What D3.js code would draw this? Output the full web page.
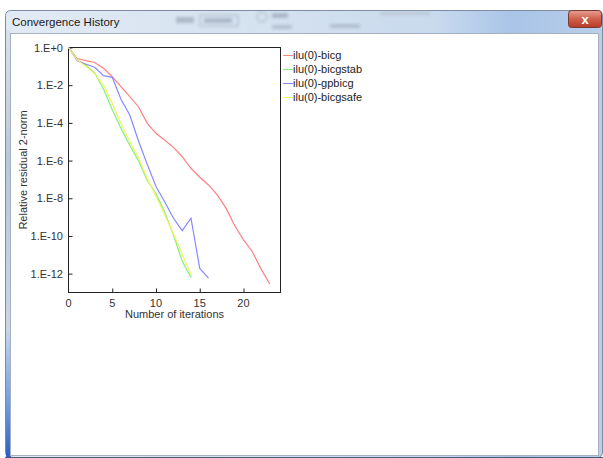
<!DOCTYPE html>
<html>
<head>
<meta charset="utf-8">
<script src="https://cdn.jsdelivr.net/npm/d3@7"></script>
<style>
  body { margin: 0; background: #fff; }
  text { font-family: "Liberation Sans", Arial, sans-serif; }
</style>
</head>
<body>
<svg id="chart" width="603" height="458"></svg>
<script>
// residual history per solver, index = iteration number
let seriesNames = ['ilu(0)-bicg', 'ilu(0)-bicgstab', 'ilu(0)-gpbicg', 'ilu(0)-bicgsafe'];
let seriesColors = ['#ff8080', '#80f080', '#8888ff', '#f4f460'];

let bicg = [1, 2.6e-1, 2.0e-1, 1.6e-1, 7.9e-2, 2.8e-2, 8.3e-3, 2.5e-3, 7.2e-4, 9.5e-5, 2.8e-5, 1.2e-5,
    5.0e-6, 1.6e-6, 3.9e-7, 1.3e-7, 5.1e-8, 1.5e-8, 3.0e-9, 3.5e-10, 6.2e-11, 1.5e-11, 1.8e-12, 2.8e-13];
let bicgstab = [1, 2.2e-1, 1.1e-1, 4.5e-2, 6.3e-3, 5.0e-4, 5.0e-5, 6.3e-6, 1.0e-6, 8.9e-8, 1.8e-8,
    1.8e-9, 1.1e-10, 4.5e-12, 6.3e-13];
let gpbicg = [1, 2.0e-1, 1.3e-1, 8.9e-2, 3.2e-2, 2.6e-2, 1.8e-3, 2.6e-4, 1.1e-5, 6.3e-7, 4.2e-8,
    6.3e-9, 8.7e-10, 1.9e-10, 8.7e-10, 1.9e-12, 5.8e-13];
let bicgsafe = [1, 2.2e-1, 1.0e-1, 4.0e-2, 1.0e-2, 1.1e-3, 9.5e-5, 1.0e-5, 1.4e-6, 1.1e-7, 1.3e-8,
    1.3e-9, 1.3e-10, 1.1e-11, 8.9e-13];

let xTicks = [0, 5, 10, 15, 20];
let yTicks = [1, 1e-2, 1e-4, 1e-6, 1e-8, 1e-10, 1e-12];
let yTickLabels = ['1.E+0', '1.E-2', '1.E-4', '1.E-6', '1.E-8', '1.E-10', '1.E-12'];

const svg = d3.select('#chart');

// ---- window chrome ----
const defs = svg.append('defs');
let tg = defs.append('linearGradient').attr('id', 'titlebar');
tg.append('stop').attr('offset', '0%').attr('stop-color', '#e2ebf5');
tg.append('stop').attr('offset', '45%').attr('stop-color', '#d4e1ef');
tg.append('stop').attr('offset', '72%').attr('stop-color', '#c9daee');
tg.append('stop').attr('offset', '85%').attr('stop-color', '#a9c4e8');
tg.append('stop').attr('offset', '100%').attr('stop-color', '#b9cfea');

let lg = defs.append('linearGradient').attr('id', 'leftedge')
    .attr('x1', 0).attr('y1', 0).attr('x2', 0).attr('y2', 1);
lg.append('stop').attr('offset', '0%').attr('stop-color', '#d8e2ee');
lg.append('stop').attr('offset', '30%').attr('stop-color', '#b8c8dc');
lg.append('stop').attr('offset', '70%').attr('stop-color', '#c8d6e8');
lg.append('stop').attr('offset', '88%').attr('stop-color', '#6f9be0');
lg.append('stop').attr('offset', '100%').attr('stop-color', '#2c5fc4');

let cg = defs.append('linearGradient').attr('id', 'closebtn')
    .attr('x1', 0).attr('y1', 0).attr('x2', 0).attr('y2', 1);
cg.append('stop').attr('offset', '0%').attr('stop-color', '#e8a092');
cg.append('stop').attr('offset', '50%').attr('stop-color', '#d0604c');
cg.append('stop').attr('offset', '100%').attr('stop-color', '#b83a28');

defs.append('filter').attr('id', 'blur')
    .append('feGaussianBlur').attr('stdDeviation', 1.6);

svg.append('rect')
    .attr('x', 5.5).attr('y', 10.5).attr('width', 597).attr('height', 447)
    .attr('rx', 5)
    .attr('fill', 'url(#titlebar)')
    .attr('stroke', '#7d8ca3');

svg.append('rect')
    .attr('x', 6).attr('y', 30).attr('width', 5).attr('height', 427)
    .attr('fill', 'url(#leftedge)');

// blurred stuff behind the glass title bar
let ghost = svg.append('g').attr('filter', 'url(#blur)').attr('opacity', 0.55);
ghost.append('rect').attr('x', 176).attr('y', 17).attr('width', 18).attr('height', 6).attr('fill', '#8a96a6');
ghost.append('rect').attr('x', 200).attr('y', 15).attr('width', 38).attr('height', 11).attr('fill', 'none')
    .attr('stroke', '#7c8898');
ghost.append('rect').attr('x', 204).attr('y', 18).attr('width', 28).attr('height', 5).attr('fill', '#8a96a6');
ghost.append('circle').attr('cx', 262).attr('cy', 17).attr('r', 5).attr('fill', 'none').attr('stroke', '#7c8898');
ghost.append('rect').attr('x', 272).attr('y', 13).attr('width', 16).attr('height', 5).attr('fill', '#8a96a6');
ghost.append('rect').attr('x', 272).attr('y', 25).attr('width', 20).attr('height', 4).attr('fill', '#9aa6b6');
ghost.append('rect').attr('x', 330).attr('y', 24).attr('width', 30).attr('height', 4).attr('fill', '#9aa6b6');
ghost.append('rect').attr('x', 380).attr('y', 12).attr('width', 50).attr('height', 3).attr('fill', '#aab4c2');

svg.append('text')
    .attr('x', 12).attr('y', 26)
    .attr('font-size', 11.5)
    .attr('fill', '#1a1a1a')
    .text('Convergence History');

svg.append('rect')
    .attr('x', 568.5).attr('y', 10.5).attr('width', 33).attr('height', 17)
    .attr('rx', 3)
    .attr('fill', 'url(#closebtn)')
    .attr('stroke', '#7a3a30');
svg.append('text')
    .attr('x', 585).attr('y', 23.5)
    .attr('text-anchor', 'middle')
    .attr('font-size', 13)
    .attr('font-weight', 'bold')
    .attr('fill', '#fff')
    .text('x');

// client area
svg.append('rect')
    .attr('x', 10.5).attr('y', 33.5).attr('width', 588).attr('height', 422)
    .attr('fill', '#fff')
    .attr('stroke', '#a8b0c0');
svg.append('line')
    .attr('x1', 5).attr('x2', 603).attr('y1', 457.5).attr('y2', 457.5)
    .attr('stroke', '#4a5a78');

// ---- plot ----
const pLeft = 68.5, pTop = 47.5, pRight = 280.5, pBottom = 292.5;

const x = d3.scaleLinear().domain([0, 24.23]).range([pLeft, pRight]);
const y = d3.scaleLog().domain([1e-13, 1]).range([pBottom, pTop]);

const plot = svg.append('g');

plot.append('rect')
    .attr('x', pLeft).attr('y', pTop)
    .attr('width', pRight - pLeft).attr('height', pBottom - pTop)
    .attr('fill', 'none')
    .attr('stroke', '#222');

// inward ticks
const yAxis = d3.axisRight(y).tickValues(yTicks).tickSize(4)
    .tickFormat('').tickSizeOuter(0);
plot.append('g').attr('transform', 'translate(' + pLeft + ',0)').call(yAxis)
    .call(g => g.select('.domain').remove())
    .selectAll('line').attr('stroke', '#222');

const xAxis = d3.axisTop(x).tickValues(xTicks.slice(1)).tickSize(4)
    .tickFormat('').tickSizeOuter(0);
plot.append('g').attr('transform', 'translate(0,' + pBottom + ')').call(xAxis)
    .call(g => g.select('.domain').remove())
    .selectAll('line').attr('stroke', '#222');

plot.append('g').selectAll('text')
    .data(yTicks)
    .join('text')
    .attr('x', 63)
    .attr('y', d => y(d) + 4)
    .attr('text-anchor', 'end')
    .attr('font-size', 11)
    .attr('fill', '#333')
    .text((d, i) => yTickLabels[i]);

plot.append('g').selectAll('text')
    .data(xTicks)
    .join('text')
    .attr('x', d => x(d))
    .attr('y', 306.5)
    .attr('text-anchor', 'middle')
    .attr('font-size', 11)
    .attr('fill', '#333')
    .text(d => d);

plot.append('text')
    .attr('x', (pLeft + pRight) / 2)
    .attr('y', 317.5)
    .attr('text-anchor', 'middle')
    .attr('font-size', 11)
    .attr('fill', '#333')
    .text('Number of iterations');

plot.append('text')
    .attr('transform', 'translate(26.5,' + (pTop + pBottom) / 2 + ') rotate(-90)')
    .attr('text-anchor', 'middle')
    .attr('font-size', 11)
    .attr('fill', '#333')
    .text('Relative residual 2-norm');

// curves
let allSeries = [bicg, bicgstab, gpbicg, bicgsafe];
const line = d3.line()
    .x((d, i) => x(i))
    .y(d => y(d));

plot.append('g').selectAll('path')
    .data(allSeries)
    .join('path')
    .attr('d', d => line(d))
    .attr('fill', 'none')
    .attr('stroke', (d, i) => seriesColors[i])
    .attr('stroke-width', 1.2);

// legend
const legend = plot.append('g').selectAll('g')
    .data(seriesNames)
    .join('g')
    .attr('transform', (d, i) => 'translate(283,' + (55 + i * 14) + ')');
legend.append('line')
    .attr('x1', 0).attr('x2', 10)
    .attr('y1', 0.5).attr('y2', 0.5)
    .attr('stroke', (d, i) => seriesColors[i]);
legend.append('text')
    .attr('x', 10).attr('y', 4)
    .attr('font-size', 11)
    .attr('fill', '#222')
    .text(d => d);
</script>
</body>
</html>
